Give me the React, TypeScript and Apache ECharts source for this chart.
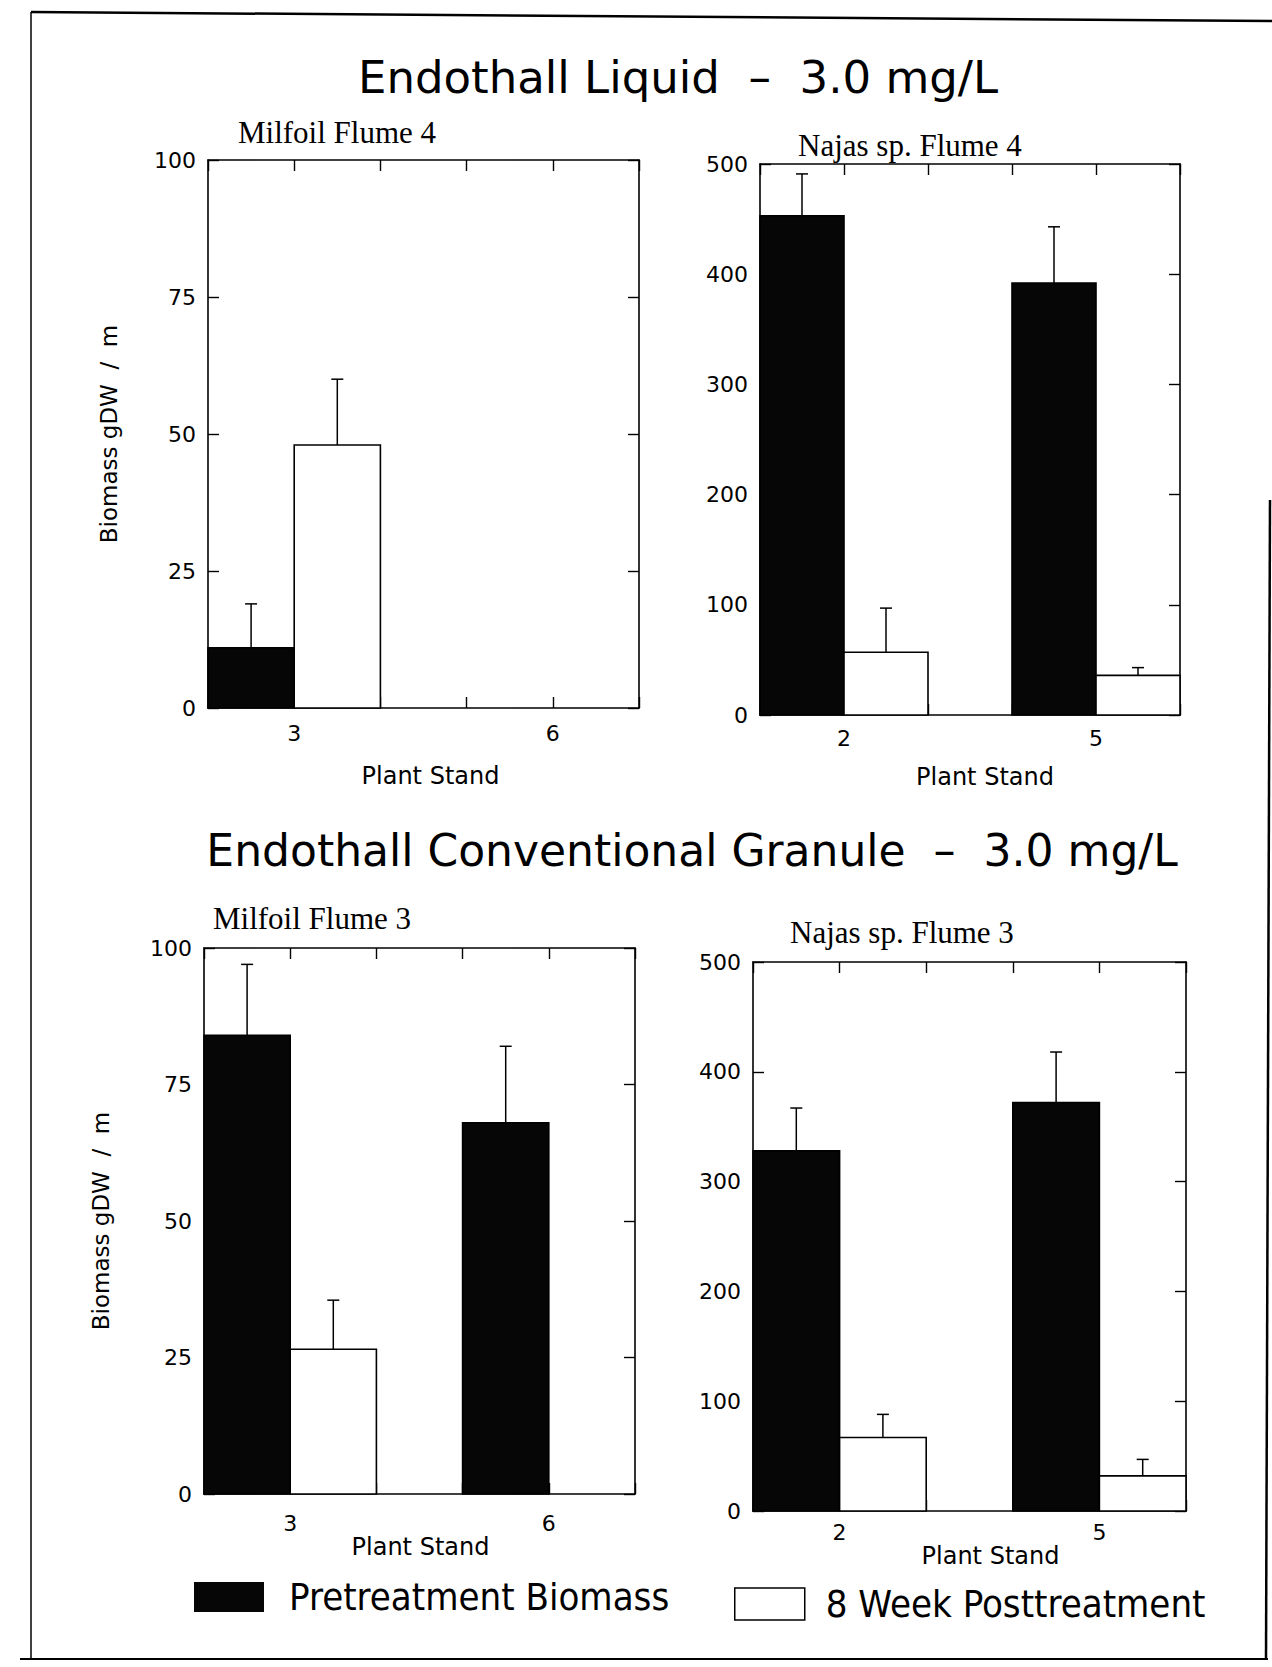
import React, { useEffect, useRef } from "react";
import * as echarts from "echarts";

// ---------------- data ----------------
const mainTitles = [
  "Endothall Liquid  \u2013  3.0 mg/L",
  "Endothall Conventional Granule  \u2013  3.0 mg/L",
];
const panelTitles = ["Milfoil Flume 4", "Najas sp. Flume 4", "Milfoil Flume 3", "Najas sp. Flume 3"];
const stands = [
  [3, 6],
  [2, 5],
  [3, 6],
  [2, 5],
];
const yMaxes = [100, 500, 100, 500];
const ySteps = [25, 100, 25, 100];
const pretreatment = [
  [11, null],
  [453, 392],
  [84, 68],
  [328, 372],
];
const pretreatmentErrTop = [
  [19, null],
  [491, 443],
  [97, 82],
  [367, 418],
];
const posttreatment = [
  [48, null],
  [57, 36],
  [26.5, null],
  [67, 32],
];
const posttreatmentErrTop = [
  [60, null],
  [97, 43],
  [35.5, null],
  [88, 47],
];
const xAxisName = "Plant Stand";
const yAxisName = "Biomass gDW  /  m";
const legendNames = ["Pretreatment Biomass", "8 Week Posttreatment"];

// ---------------- layout ----------------
const grids = [
  { left: 208, top: 160, width: 431, height: 548 },
  { left: 760, top: 164, width: 420, height: 551 },
  { left: 204, top: 948, width: 431, height: 546 },
  { left: 753, top: 962, width: 433, height: 549 },
];
const xLabelMargins = [14, 12, 18, 10];
const xNameGaps = [56, 50, 40, 33];
const xNameShift = [14, 30, 2, 42];
const showYName = [true, false, true, false];
const yNameGaps = [88, 0, 92, 0];
const panelTitlePos = [
  { left: 238, top: 117 },
  { left: 798, top: 130 },
  { left: 213, top: 903 },
  { left: 790, top: 917 },
];
const mainTitlePos = [
  { left: 678, top: 55 },
  { left: 692, top: 828 },
];
const mainTitleSizes = [45, 44];

const SANS = "'DejaVu Sans', 'Liberation Sans', sans-serif";
const SERIF = "'Liberation Serif', 'DejaVu Serif', serif";
const NARROW = "'Liberation Sans Narrow', 'DejaVu Sans Condensed', 'Liberation Sans', sans-serif";

function makeRender(kind: "pre" | "post") {
  return (params: any, api: any) => {
    const stand = api.value(0);
    const val = api.value(1);
    const err = api.value(2);
    const x0 = kind === "pre" ? stand - 1 : stand;
    const x1 = x0 + 1;
    const p0 = api.coord([x0, 0]);
    const p1 = api.coord([x1, val]);
    const mid = api.coord([x0 + 0.5, val]);
    const pe = api.coord([x0 + 0.5, err]);
    return {
      type: "group",
      children: [
        {
          type: "rect",
          shape: { x: p0[0], y: p1[1], width: p1[0] - p0[0], height: p0[1] - p1[1] },
          style: { fill: kind === "pre" ? "#060606" : "#ffffff", stroke: "#000", lineWidth: 1.6 },
        },
        {
          type: "line",
          shape: { x1: mid[0], y1: mid[1], x2: pe[0], y2: pe[1] },
          style: { stroke: "#000", lineWidth: 1.5 },
        },
        {
          type: "line",
          shape: { x1: pe[0] - 6, y1: pe[1], x2: pe[0] + 6, y2: pe[1] },
          style: { stroke: "#000", lineWidth: 1.5 },
        },
      ],
    };
  };
}

const lineStyle = { color: "#000", width: 1.6 };
const tickStyle = { show: true, inside: true, length: 11, lineStyle: { color: "#000", width: 1.4 } };

function buildOption() {
  const xAxes: any[] = [];
  const yAxes: any[] = [];
  const series: any[] = [];
  grids.forEach((g, i) => {
    const st = stands[i];
    const xmin = st[0] - 1;
    const xmax = st[1] + 1;
    const labelSet = st;
    xAxes.push({
      gridIndex: i,
      type: "value",
      position: "bottom",
      min: xmin,
      max: xmax,
      interval: 1,
      splitLine: { show: false },
      axisLine: { show: true, onZero: false, lineStyle },
      axisTick: tickStyle,
      axisLabel: {
        margin: xLabelMargins[i],
        color: "#000",
        fontSize: 22,
        fontFamily: SANS,
        formatter: (v: number) => (labelSet.indexOf(v) >= 0 ? String(v) : ""),
      },
      name: xAxisName,
      nameLocation: "middle",
      nameGap: xNameGaps[i],
      nameTextStyle: {
        color: "#000",
        fontSize: 24,
        fontFamily: SANS,
        padding: [0, 0, 0, xNameShift[i]],
      },
    });
    xAxes.push({
      gridIndex: i,
      type: "value",
      position: "top",
      min: xmin,
      max: xmax,
      interval: 1,
      splitLine: { show: false },
      axisLine: { show: true, onZero: false, lineStyle },
      axisTick: tickStyle,
      axisLabel: { show: false },
    });
    yAxes.push({
      gridIndex: i,
      type: "value",
      position: "left",
      min: 0,
      max: yMaxes[i],
      interval: ySteps[i],
      splitLine: { show: false },
      axisLine: { show: true, onZero: false, lineStyle },
      axisTick: tickStyle,
      axisLabel: { margin: 12, color: "#000", fontSize: 22, fontFamily: SANS },
      name: showYName[i] ? yAxisName : "",
      nameLocation: "middle",
      nameGap: yNameGaps[i],
      nameTextStyle: { color: "#000", fontSize: 23, fontFamily: SANS },
    });
    yAxes.push({
      gridIndex: i,
      type: "value",
      position: "right",
      min: 0,
      max: yMaxes[i],
      interval: ySteps[i],
      splitLine: { show: false },
      axisLine: { show: true, onZero: false, lineStyle },
      axisTick: tickStyle,
      axisLabel: { show: false },
    });

    const preData: any[] = [];
    const postData: any[] = [];
    st.forEach((s, j) => {
      if (pretreatment[i][j] != null) preData.push([s, pretreatment[i][j], pretreatmentErrTop[i][j]]);
      if (posttreatment[i][j] != null) postData.push([s, posttreatment[i][j], posttreatmentErrTop[i][j]]);
    });
    series.push({
      type: "custom",
      name: legendNames[0],
      xAxisIndex: 2 * i,
      yAxisIndex: 2 * i,
      renderItem: makeRender("pre"),
      encode: { x: 0, y: 1 },
      itemStyle: { color: "#060606" },
      data: preData,
      z: 3,
    });
    series.push({
      type: "custom",
      name: legendNames[1],
      xAxisIndex: 2 * i,
      yAxisIndex: 2 * i,
      renderItem: makeRender("post"),
      encode: { x: 0, y: 1 },
      itemStyle: { color: "#ffffff", borderColor: "#000", borderWidth: 1.5 },
      data: postData,
      z: 3,
    });
  });

  const titles: any[] = [];
  mainTitles.forEach((t, i) => {
    titles.push({
      text: t,
      left: mainTitlePos[i].left,
      top: mainTitlePos[i].top,
      textAlign: "center",
      padding: 0,
      textStyle: { color: "#000", fontSize: mainTitleSizes[i], fontWeight: "normal", fontFamily: SANS },
    });
  });
  panelTitles.forEach((t, i) => {
    titles.push({
      text: t,
      left: panelTitlePos[i].left,
      top: panelTitlePos[i].top,
      padding: 0,
      textStyle: { color: "#000", fontSize: 31, fontWeight: "normal", fontFamily: SERIF },
    });
  });

  return {
    animation: false,
    backgroundColor: "#ffffff",
    title: titles,
    grid: grids.map((g) => ({ ...g, containLabel: false })),
    xAxis: xAxes,
    yAxis: yAxes,
    legend: [
      {
        left: 194,
        top: 1578,
        padding: 0,
        selectedMode: false,
        itemWidth: 70,
        itemHeight: 30,
        itemGap: 20,
        textStyle: { color: "#000", fontSize: 38, fontFamily: NARROW, padding: [0, 0, 0, 20] },
        data: [{ name: legendNames[0], icon: "rect", itemStyle: { color: "#060606" } }],
      },
      {
        left: 734,
        top: 1585,
        padding: 0,
        selectedMode: false,
        itemWidth: 70,
        itemHeight: 32,
        itemGap: 20,
        textStyle: { color: "#000", fontSize: 38, fontFamily: NARROW, padding: [0, 0, 0, 16] },
        data: [
          {
            name: legendNames[1],
            icon: "rect",
            itemStyle: { color: "#ffffff", borderColor: "#000", borderWidth: 1.5 },
          },
        ],
      },
    ],
    graphic: [
      { type: "line", shape: { x1: 31, y1: 12, x2: 1272, y2: 21 }, style: { stroke: "#000", lineWidth: 2.5 } },
      { type: "line", shape: { x1: 31, y1: 12, x2: 31, y2: 1659 }, style: { stroke: "#000", lineWidth: 1.5 } },
      { type: "line", shape: { x1: 20, y1: 1659, x2: 1268, y2: 1659 }, style: { stroke: "#000", lineWidth: 2 } },
      { type: "line", shape: { x1: 1270, y1: 500, x2: 1266, y2: 1659 }, style: { stroke: "#000", lineWidth: 2.5 } },
    ],
    series,
  };
}

export default function App() {
  const ref = useRef<HTMLDivElement>(null);
  useEffect(() => {
    document.body.style.margin = "0";
    if (!ref.current) return;
    const chart = echarts.init(ref.current, undefined, { renderer: "svg" });
    chart.setOption(buildOption() as any);
    return () => {
      chart.dispose();
    };
  }, []);
  return <div ref={ref} style={{ width: 1272, height: 1667, background: "#fff" }} />;
}
